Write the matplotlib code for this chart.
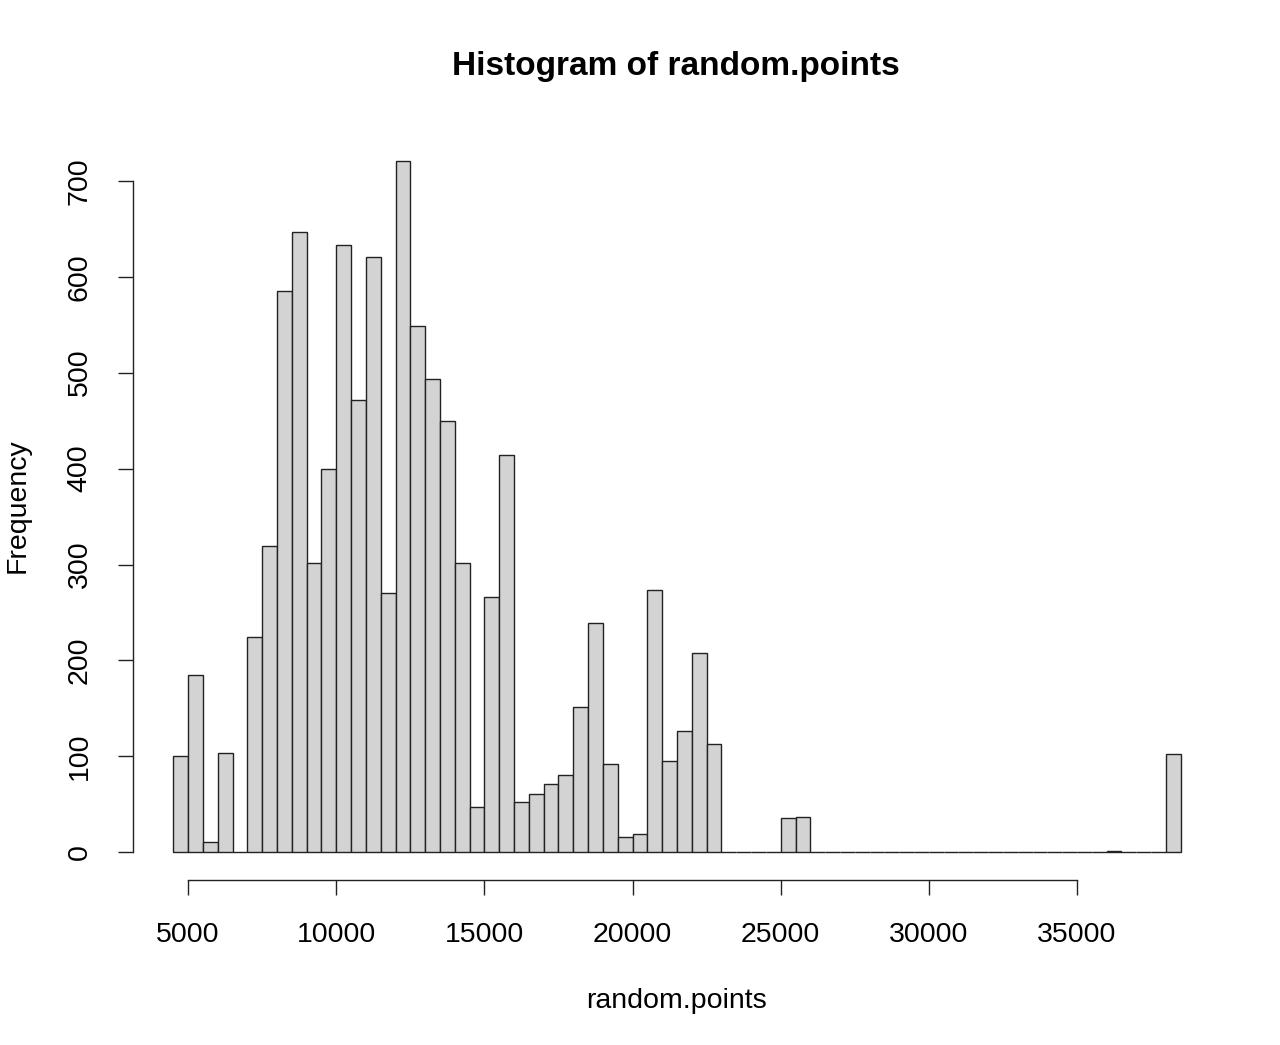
import numpy as np
import matplotlib
matplotlib.use("Agg")
import matplotlib.pyplot as plt

plt.rcParams['font.family'] = ['Liberation Sans', 'DejaVu Sans']

bin_start = 4500
bin_width = 500
counts = [100, 185, 11, 104, 0, 224, 319, 585, 647, 302, 400, 633, 472, 621, 270,
          721, 549, 493, 450, 302, 47, 266, 414, 52, 61, 71, 81, 152, 239, 92,
          16, 19, 273, 95, 127, 208, 113, 0, 0, 0, 0, 36, 37,
          0, 0, 0, 0, 0, 0, 0, 0, 0, 0, 0, 0, 0, 0, 0, 0, 0, 0, 0, 0,
          1, 0, 0, 0, 102]
edges = bin_start + bin_width * np.arange(len(counts) + 1)
xticks = [5000, 10000, 15000, 20000, 25000, 30000, 35000]
yticks = [0, 100, 200, 300, 400, 500, 600, 700]

fig = plt.figure(figsize=(12.8, 10.45), dpi=100)
ax = fig.add_axes([133/1280, 1 - 880/1045, (1221-133)/1280, (880-133)/1045])

ax.bar(edges[:-1], counts, width=bin_width, align='edge', color='#D3D3D3',
       edgecolor='#222222', linewidth=1.0)

xr = edges[-1] - edges[0]
ax.set_xlim(edges[0] - 0.04 * xr, edges[-1] + 0.04 * xr)
ymax = max(counts)
ax.set_ylim(-0.04 * ymax, ymax * 1.04)

for s in ax.spines.values():
    s.set_visible(False)

ax.set_xticks(xticks)
ax.set_xticklabels([str(v) for v in xticks])
ax.set_yticks(yticks)
ax.set_yticklabels([str(v) for v in yticks], rotation=90, va='center')
ax.tick_params(axis='both', length=11, width=1.0, labelsize=20.5, color='#222222')
ax.tick_params(axis='x', pad=19)
ax.tick_params(axis='y', pad=18)

# R-style axis lines spanning first to last tick
ax.plot([xticks[0], xticks[-1]], [ax.get_ylim()[0]] * 2, color='#222222', lw=1.0,
        clip_on=False)
ax.plot([ax.get_xlim()[0]] * 2, [yticks[0], yticks[-1]], color='#222222', lw=1.0,
        clip_on=False)

fig.text(676/1280, 1 - 66/1045, 'Histogram of random.points', ha='center', va='center',
         fontsize=24, fontweight='bold')
fig.text(676/1280, 1 - 1001/1045, 'random.points', ha='center', va='center', fontsize=20.5)
fig.text(18/1280, 1 - 506/1045, 'Frequency', ha='center', va='center', fontsize=20.5,
         rotation=90)

fig.savefig('out.png', dpi=100)
